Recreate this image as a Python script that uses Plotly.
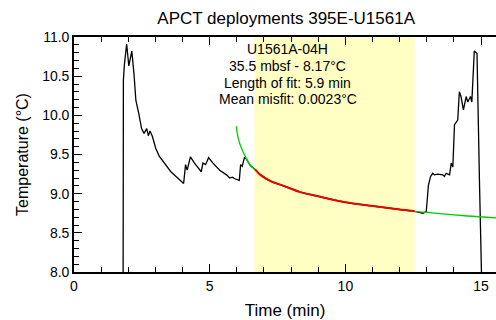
import plotly.graph_objects as go

# Measured temperature record (black)
t_meas = [1.81, 1.82, 1.86, 1.94, 2.02, 2.13, 2.21, 2.28, 2.39, 2.49, 2.58, 2.68, 2.74, 2.80, 2.89,
          3.01, 3.14, 3.33, 3.57, 3.82, 4.04, 4.11, 4.17, 4.29, 4.44, 4.69, 4.75, 4.85, 4.96, 5.12,
          5.37, 5.62, 5.74, 5.83, 5.93, 6.09, 6.14, 6.20, 6.28, 6.34, 6.50, 6.67, 6.87, 7.24, 7.73,
          8.34, 8.96, 9.57, 10.18, 10.71, 11.30, 11.94, 12.55, 12.86, 12.98, 13.06, 13.14, 13.22,
          13.28, 13.41, 13.59, 13.65, 13.71, 13.84, 13.90, 13.96, 14.02, 14.14, 14.20, 14.26, 14.35,
          14.45, 14.51, 14.61, 14.66, 14.75, 14.85, 14.94, 15.02]
T_meas = [7.90, 10.45, 10.66, 10.91, 10.63, 10.82, 10.53, 10.19, 10.02, 9.83, 9.77, 9.83, 9.74, 9.80, 9.73,
          9.58, 9.48, 9.39, 9.28, 9.20, 9.13, 9.37, 9.30, 9.47, 9.39, 9.28, 9.39, 9.37, 9.46, 9.39,
          9.30, 9.24, 9.20, 9.21, 9.19, 9.17, 9.37, 9.35, 9.46, 9.45, 9.36, 9.31, 9.24, 9.16, 9.10,
          9.02, 8.97, 8.92, 8.88, 8.855, 8.83, 8.80, 8.775, 8.75, 8.77, 9.11, 9.22, 9.26,
          9.24, 9.25, 9.24, 9.22, 9.26, 9.24, 9.39, 9.34, 9.88, 9.94, 10.30, 10.24, 10.07,
          10.24, 10.17, 10.24, 10.17, 10.82, 10.79, 9.17, 7.90]

# Model curve (green)
t_model = [5.98, 6.02, 6.08, 6.15, 6.25, 6.35, 6.50, 6.67, 6.87, 7.24, 7.73, 8.34, 8.96, 9.57,
           10.18, 10.71, 11.30, 11.94, 12.55, 13.20, 13.80, 14.50, 15.61]
T_model = [9.86, 9.76, 9.67, 9.60, 9.52, 9.45, 9.36, 9.31, 9.24, 9.16, 9.10, 9.02, 8.97, 8.92,
           8.88, 8.855, 8.83, 8.80, 8.775, 8.755, 8.735, 8.715, 8.69]

# Fitted portion (red)
t_fit = [6.67, 6.87, 7.24, 7.73, 8.34, 8.96, 9.57, 10.18, 10.71, 11.30, 11.94, 12.55]
T_fit = [9.31, 9.24, 9.16, 9.10, 9.02, 8.97, 8.92, 8.88, 8.855, 8.83, 8.80, 8.775]

fit_window = [6.65, 12.55]

info_lines = ["U1561A-04H", "35.5 mbsf - 8.17°C", "Length of fit: 5.9 min", "Mean misfit: 0.0023°C"]

FONT = "Liberation Sans, Arial, sans-serif"

fig = go.Figure()
fig.add_vrect(x0=fit_window[0], x1=fit_window[1], fillcolor="#FFFFC4", opacity=1,
              line_width=0, layer="below")
fig.add_trace(go.Scatter(x=t_meas, y=T_meas, mode="lines",
                         line=dict(color="black", width=1.3), showlegend=False))
fig.add_trace(go.Scatter(x=t_model, y=T_model, mode="lines",
                         line=dict(color="#00CC00", width=1.3, shape="spline"), showlegend=False))
fig.add_trace(go.Scatter(x=t_fit, y=T_fit, mode="lines",
                         line=dict(color="#EE0000", width=2, shape="spline"), showlegend=False))

# info text, one annotation per line (pixel offsets from the paper top)
line_px = [49.3, 66.0, 82.7, 99.3]
for txt, py in zip(info_lines, line_px):
    fig.add_annotation(x=7.88, y=11 - (py - 37) / 78.4, xref="x", yref="y", text=txt,
                       showarrow=False, xanchor="center", yanchor="middle",
                       font=dict(family=FONT, size=14, color="black"))

fig.update_layout(
    width=496, height=320,
    margin=dict(l=74, r=0, t=37, b=48),
    paper_bgcolor="white", plot_bgcolor="rgba(0,0,0,0)",
    font=dict(family=FONT, size=14, color="black"),
    title=dict(text="APCT deployments 395E-U1561A", x=0.577, xanchor="center",
               y=1 - 18 / 320, yanchor="middle", font=dict(family=FONT, size=17)),
)
fig.update_xaxes(range=[0, 15.55], showgrid=False, zeroline=False,
                 showline=True, linecolor="black", linewidth=1.6, mirror="ticks",
                 ticks="inside", ticklen=8, tickwidth=1.4, tickcolor="black",
                 tick0=0, dtick=5,
                 minor=dict(ticks="inside", dtick=1, ticklen=5.5, tickcolor="black", tickwidth=1.2,
                            showgrid=False),
                 title=dict(text="Time (min)", font=dict(family=FONT, size=17), standoff=12),
                 tickfont=dict(size=14))
fig.update_yaxes(range=[8.0, 11.0], showgrid=False, zeroline=False,
                 showline=True, linecolor="black", linewidth=1.6, mirror=False,
                 ticks="inside", ticklen=8, tickwidth=1.4, tickcolor="black",
                 tick0=8, dtick=0.5, tickformat=".1f",
                 minor=dict(ticks="inside", dtick=0.1, ticklen=5.5, tickcolor="black", tickwidth=1.2,
                            showgrid=False),
                 title=dict(text="Temperature (°C)", font=dict(family=FONT, size=16), standoff=10),
                 tickfont=dict(size=14))

fig.write_html("out.html")
